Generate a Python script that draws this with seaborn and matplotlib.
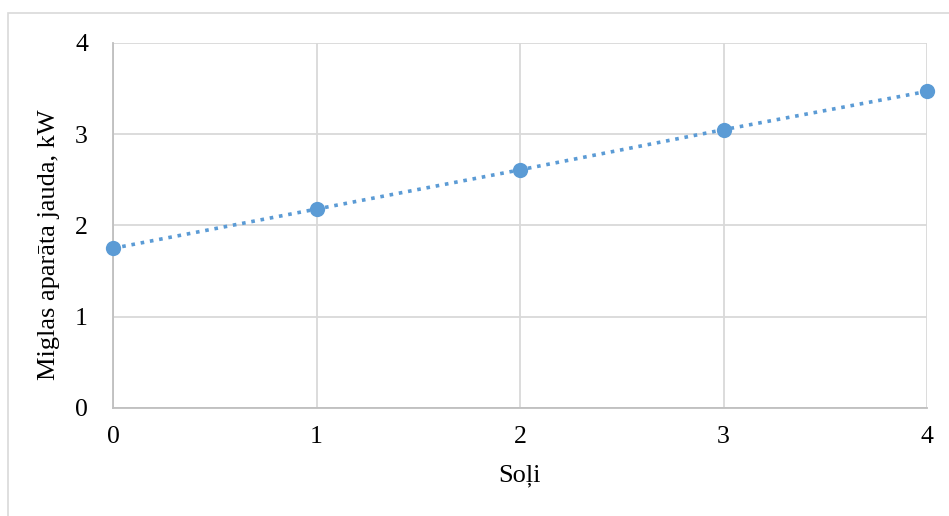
import matplotlib
matplotlib.use("Agg")
import matplotlib.pyplot as plt
import seaborn as sns
import pandas as pd
from matplotlib.patches import Rectangle

# Data
steps = [0, 1, 2, 3, 4]
power_kw = [1.75, 2.18, 2.61, 3.05, 3.47]
x_ticks = [0, 1, 2, 3, 4]
y_ticks = [0, 1, 2, 3, 4]
x_label = "Soļi"
y_label = "Miglas aparāta jauda, kW"

sns.set_theme(style="whitegrid")
plt.rcParams["font.family"] = ["Liberation Serif", "DejaVu Serif"]

df = pd.DataFrame({"step": steps, "power": power_kw})

fig = plt.figure(figsize=(9.49, 5.16), dpi=100)
ax = fig.add_axes([113 / 949, 1 - 408 / 516, (927 - 113) / 949, (408 - 43) / 516])

sns.lineplot(data=df, x="step", y="power", ax=ax, color="#5b9bd5",
             linestyle=(0, (1, 1.6)), linewidth=2.6, marker="o",
             markersize=11, markeredgewidth=0, zorder=3, clip_on=False)

ax.set_xlim(0, 4)
ax.set_ylim(0, 4)
ax.set_xticks(x_ticks)
ax.set_yticks(y_ticks)
ax.tick_params(axis="both", labelsize=18.5, colors="black", length=0)
ax.tick_params(axis="x", pad=13)
ax.tick_params(axis="y", pad=18)
ax.grid(True, color="#d9d9d9", linewidth=1.3)
for side in ["top", "right"]:
    ax.spines[side].set_visible(False)
for side in ["left", "bottom"]:
    ax.spines[side].set_color("#bfbfbf")
    ax.spines[side].set_linewidth(1.3)

ax.set_xlabel(x_label, fontsize=19, color="black", labelpad=12)
ax.set_ylabel(y_label, fontsize=19, color="black", va="center")
ax.yaxis.set_label_coords(-0.079, 0.447)

# Outer chart frame
fig.patches.append(Rectangle((8 / 949, -0.1), 1.2, (516 - 13) / 516 + 0.1,
                             transform=fig.transFigure, fill=False,
                             edgecolor="#d9d9d9", linewidth=1.2, zorder=0))

fig.savefig("out.png", dpi=100)
